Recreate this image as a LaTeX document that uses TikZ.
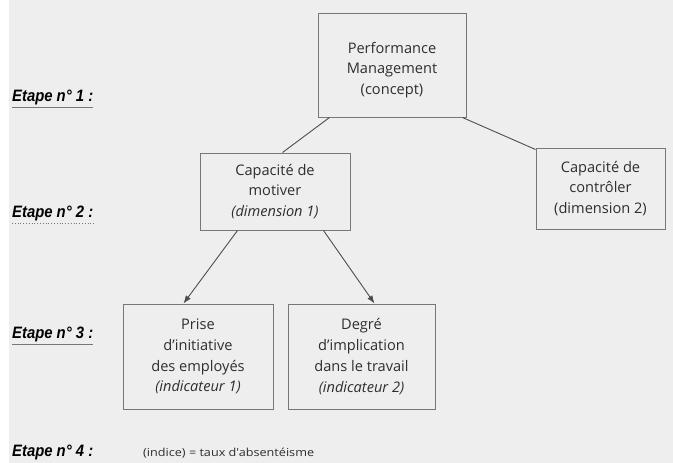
\documentclass[tikz,border=0pt]{standalone}
\usepackage{fontspec}
\setmainfont{Open Sans}
\newfontfamily\stepfont[FakeStretch=0.9]{Liberation Sans}
\newfontfamily\notefont[FakeStretch=1.15]{Open Sans}
\usetikzlibrary{arrows.meta}
\definecolor{bg}{HTML}{EEEEEE}
\definecolor{ink}{HTML}{2E2E2E}
\definecolor{frame}{HTML}{777777}
\tikzset{
  box/.style={draw=frame, line width=1pt, fill=bg, align=center, text=ink,
    font=\fontsize{14.6}{20.8}\selectfont, inner sep=0pt},
  boxtext/.style={align=center, text=ink, font=\fontsize{14.6}{20.8}\selectfont, inner sep=0pt},
  link/.style={draw=ink!85, line width=0.9pt},
  arr/.style={link, -{Latex[length=8pt,width=6pt]}},
  steplabel/.style={anchor=west, text=black, font=\stepfont\bfseries\itshape\fontsize{16.5}{18}\selectfont, inner sep=0pt},
  stepline/.style={draw=frame, line width=0.8pt}
}
\begin{document}
\begin{tikzpicture}[x=1pt, y=-1pt]
\useasboundingbox (0,0) rectangle (673,463);
\fill[bg] (0,0) rectangle (673,463);
\fill[white] (0,0) rectangle (9,463);

% boxes
\node[box, minimum width=148pt, minimum height=104pt] (pm) at (392,65) {};
\node[boxtext] (pmtext) at ([yshift=-5pt]pm.center)
  {Performance\\Management\\(concept)};
\node[box, minimum width=150pt, minimum height=77pt] (mot) at (275,191.5)
  {Capacité de\\motiver\\\textit{(dimension 1)}};
\node[box, minimum width=129pt, minimum height=81pt] (ctl) at (600.5,188.5)
  {Capacité de\\contrôler\\(dimension 2)};
\node[box, minimum width=150pt, minimum height=105pt] (ini) at (198,356.5)
  {Prise\\d'initiative\\des employés\\\textit{(indicateur 1)}};
\node[box, minimum width=147pt, minimum height=105pt] (deg) at (361.5,356.5)
  {Degré\\d'implication\\dans le travail\\\textit{(indicateur 2)}};

% connectors
\draw[link] ([xshift=12pt]pm.south west) -- ([xshift=83pt]mot.north west);
\draw[link] ([xshift=-4pt]pm.south east) -- ([yshift=-2pt]ctl.north west);
\draw[arr] ([xshift=38pt]mot.south west) -- ([xshift=61pt]ini.north west);
\draw[arr] ([xshift=-27pt]mot.south east) -- ([xshift=87pt]deg.north west);

% step labels
\node[steplabel] (s1) at (12,97) {Etape n° 1 :};
\node[steplabel] (s2) at (12,213) {Etape n° 2 :};
\node[steplabel] (s3) at (12,334) {Etape n° 3 :};
\node[steplabel] (s4) at (12,452) {Etape n° 4 :};
\draw[stepline] ([yshift=-3pt]s1.south west) -- ([yshift=-3pt]s1.south east);
\draw[stepline, dotted] ([yshift=-3pt]s2.south west) -- ([yshift=-3pt]s2.south east);
\draw[stepline] ([yshift=-3pt]s3.south west) -- ([yshift=-3pt]s3.south east);

\node[anchor=west, text=ink, font=\notefont\fontsize{11}{12}\selectfont, inner sep=0pt] (ind) at (143,453)
  {(indice) = taux d'absentéisme};
\end{tikzpicture}
\end{document}
